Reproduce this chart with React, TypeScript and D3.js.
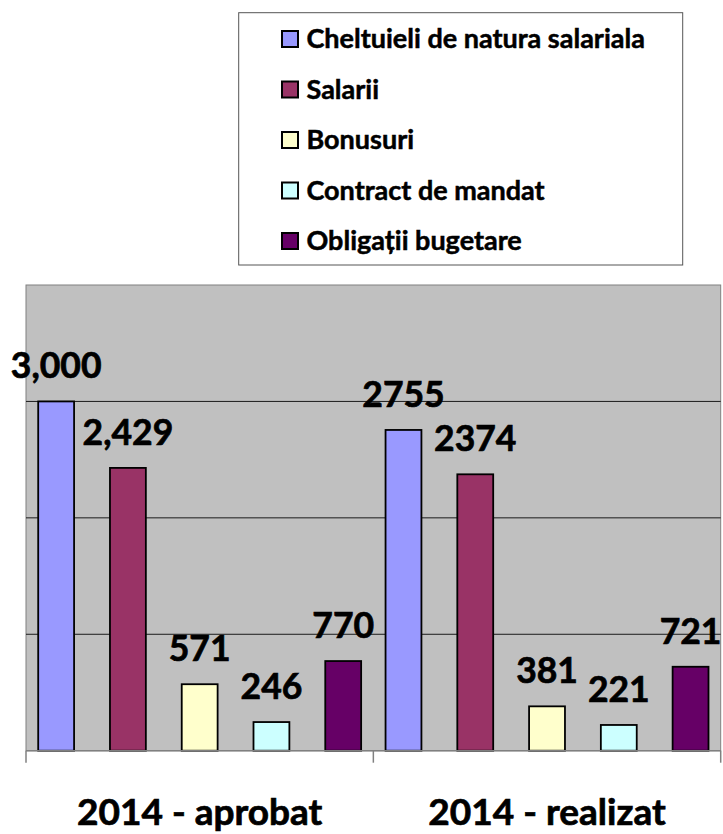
import React, { useEffect } from 'react';
import * as d3 from 'd3';

const categories = ['2014 - aprobat', '2014 - realizat'];
const seriesNames = [
  'Cheltuieli de natura salariala',
  'Salarii',
  'Bonusuri',
  'Contract de mandat',
  'Obligații bugetare',
];
const seriesColors = ['#9999FF', '#993366', '#FFFFCC', '#CCFFFF', '#660066'];
const aprobat = [3000, 2429, 571, 246, 770];
const realizat = [2755, 2374, 381, 221, 721];
const labelsAprobat = ['3,000', '2,429', '571', '246', '770'];
const labelsRealizat = ['2755', '2374', '381', '221', '721'];
const gridValues = [1000, 2000, 3000];

const values = [aprobat, realizat];
const labels = [labelsAprobat, labelsRealizat];

export default function App() {
  useEffect(() => {
    document.body.style.margin = '0';
  }, []);

  const width = 723;
  const height = 834;
  const left = 26;
  const right = 720.7;
  const top = 285;
  const bottom = 750.7;
  const font = 'Lato, "Open Sans", sans-serif';
  const heavy = { stroke: '#000', strokeWidth: 0.7 };

  const x = d3.scaleBand().domain(categories).range([left, right]).padding(0);
  const inner = d3
    .scaleBand<number>()
    .domain(d3.range(seriesNames.length))
    .range([0, x.bandwidth()])
    .paddingInner(0.5)
    .paddingOuter(0.17);
  const y = d3.scaleLinear().domain([0, 4000]).range([bottom, top]);

  const legendY = d3.scaleLinear().domain([0, 4]).range([39, 241]);

  return (
    <svg width={width} height={height} style={{ display: 'block', fontFamily: font }}>
      <rect x={0} y={0} width={width} height={height} fill="#fff" />
      {/* plot area */}
      <rect x={left} y={top} width={right - left} height={bottom - top} fill="#C0C0C0" stroke="#808080" strokeWidth={1} />
      {gridValues.map((v) => (
        <line key={v} x1={left} x2={right} y1={y(v)} y2={y(v)} stroke="#1a1a1a" strokeWidth={1} />
      ))}
      {/* bars */}
      {categories.map((c, ci) => (
        <g key={c} transform={`translate(${x(c)},0)`}>
          {values[ci].map((v, si) => (
            <rect
              key={si}
              x={inner(si)}
              y={y(v)}
              width={inner.bandwidth()}
              height={bottom - y(v)}
              fill={seriesColors[si]}
              stroke="#000"
              strokeWidth={1.8}
            />
          ))}
          {values[ci].map((v, si) => (
            <text
              key={'l' + si}
              x={(inner(si) as number) + inner.bandwidth() / 2}
              y={y(v) - 23}
              textAnchor="middle"
              fontSize={35.5}
              fontWeight="bold"
              fill="#000"
              {...heavy}
            >
              {labels[ci][si]}
            </text>
          ))}
        </g>
      ))}
      {/* x axis */}
      <line x1={left} x2={right} y1={bottom} y2={bottom} stroke="#808080" strokeWidth={1.5} />
      {[...categories.map((c) => x(c) as number), right].map((t, i) => (
        <line key={i} x1={t} x2={t} y1={bottom} y2={bottom + 12} stroke="#808080" strokeWidth={1.5} />
      ))}
      {categories.map((c) => (
        <text
          key={c}
          x={(x(c) as number) + x.bandwidth() / 2}
          y={825}
          textAnchor="middle"
          fontSize={37}
          fontWeight="bold"
          fill="#000"
          {...heavy}
        >
          {c}
        </text>
      ))}
      {/* legend */}
      <rect x={238.7} y={12.7} width={444} height={252.3} fill="#fff" stroke="#555" strokeWidth={1} />
      {seriesNames.map((n, i) => (
        <g key={n} transform={`translate(0,${legendY(i)})`}>
          <rect x={282} y={-8} width={16} height={16} fill={seriesColors[i]} stroke="#000" strokeWidth={2} />
          <text x={306.5} y={9} fontSize={27} fontWeight="bold" fill="#000" stroke="#000" strokeWidth={0.5}>
            {n}
          </text>
        </g>
      ))}
    </svg>
  );
}
